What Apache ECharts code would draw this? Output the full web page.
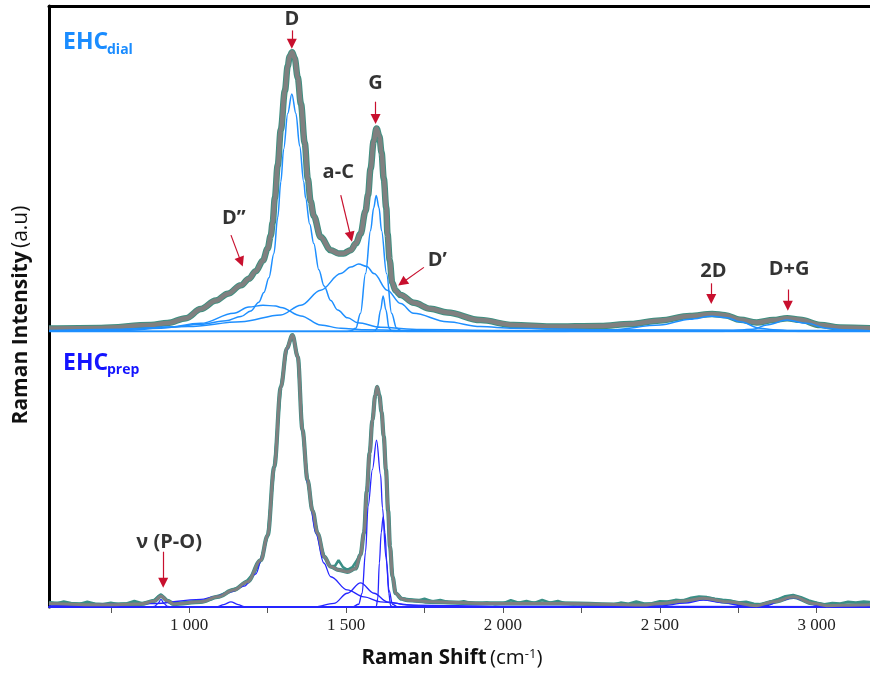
<!DOCTYPE html>
<html><head><meta charset="utf-8">
<script src="https://cdn.jsdelivr.net/npm/echarts@6/dist/echarts.min.js"></script>
<style>html,body{margin:0;padding:0;background:#fff}#c{width:870px;height:677px}</style>
</head><body><div id="c"></div>
<script>
// ---------- DATA (Raman shift cm-1, intensity a.u.) ----------
const xTickValues = [750, 1000, 1250, 1500, 1750, 2000, 2250, 2500, 2750, 3000];
const xLabelValues = [1000, 1500, 2000, 2500, 3000];

// EHC dial : fitted total and components
const dialTotal = [[553,0.9],[719,1.1],[878,2.0],[931,2.6],[990,4.1],[1037,6.9],[1085,9.5],[1123,11.6],[1165,14.2],[1190,16.2],[1212,18.5],[1235,21.8],[1250,25.5],[1260,29.5],[1266,33.5],[1273,41],[1282,51],[1292,62],[1305,74],[1314,81.5],[1320,84.5],[1328,85.8],[1336,84],[1346,78],[1356,70],[1368,58],[1378,47],[1387,40],[1397,35.5],[1419,29],[1451,25],[1476,24],[1492,24],[1515,25],[1531,27],[1546,30],[1562,37],[1570,42],[1578,50],[1588,58.5],[1597,62.4],[1606,60],[1613,55],[1620,47],[1628,38],[1632,30],[1639,22],[1647,15],[1658,12.5],[1674,11.2],[1716,8.8],[1769,7.0],[1823,5.8],[1928,3.5],[2033,2.0],[2151,1.5],[2310,1.7],[2406,2.3],[2501,3.4],[2596,4.8],[2667,5.4],[2708,5.0],[2756,3.6],[2809,2.8],[2862,3.5],[2906,4.1],[2947,3.6],[3011,2.0],[3074,1.2],[3170,1.0]];
const dialD = [[553,0.3],[783,0.7],[942,1.4],[1037,2.2],[1117,3.3],[1165,4.6],[1196,6.3],[1222,9],[1238,12],[1254,16.5],[1270,24],[1282,35],[1292,46],[1301,56],[1314,67],[1327,73],[1340,67],[1352,57],[1365,46],[1371,41],[1384,33],[1397,27],[1413,19],[1430,14],[1451,9.5],[1473,6.6],[1505,4.2],[1537,2.7],[1610,1.3],[1737,0.6],[1992,0.3],[3170,0.1]];
const dialG = [[553,0],[1500,0],[1515,0.2],[1531,1],[1546,5.6],[1562,17.8],[1578,31],[1588,38],[1596,41.8],[1605,38],[1613,31],[1629,17.8],[1645,5.6],[1661,1],[1677,0.2],[1700,0],[3170,0]];
const dialAC = [[553,0.1],[719,0.3],[996,1.5],[1165,3],[1292,5.1],[1356,8.1],[1419,12.7],[1483,17.8],[1515,19.8],[1540,20.7],[1566,20],[1589,17.8],[1631,12.7],[1674,8.6],[1715,5.6],[1822,3.0],[1928,1.5],[2033,1.0],[2310,0.5],[3170,0.2]];
const dialDp = [[553,0],[1585,0],[1591,0.1],[1599,1],[1610,6.6],[1618,10.9],[1627,6.6],[1637,1],[1645,0.1],[1652,0],[3170,0]];
const dialD2 = [[553,0.1],[783,0.3],[910,1],[1037,2.5],[1142,5.6],[1190,7.5],[1235,8.1],[1276,7.8],[1292,7.4],[1356,4.8],[1419,2],[1483,1],[1556,0.5],[1737,0.2],[2000,0],[3170,0]];
const dial2D = [[553,0],[2183,0],[2342,0.5],[2501,2],[2596,3.8],[2666,4.7],[2714,4.2],[2756,3],[2820,1],[2861,0.5],[2950,0],[3170,0]];
const dialDG = [[553,0],[2700,0],[2797,0.7],[2841,2],[2906,3.5],[2968,2.5],[3032,1],[3083,0.5],[3170,0.2]];

// EHC prep : measured (noisy) spectrum, fitted total and components
const prepRaw = [[553,1.8],[575,1.2],[600,2.0],[625,1.4],[650,1.1],[675,1.9],[700,1.2],[725,1.0],[750,1.6],[775,1.0],[800,1.3],[825,2.2],[850,1.4],[870,1.6],[889,2.6],[900,3.8],[910,4.6],[920,3.5],[931,2.0],[951,1.0],[975,1.4],[1000,1.8],[1025,2.1],[1050,2.2],[1075,3.0],[1090,3.9],[1110,4.8],[1125,5.3],[1142,6.5],[1165,7.5],[1186,9.8],[1210,13],[1228,17],[1250,26],[1271,51],[1292,80],[1311,94],[1329,98.9],[1346,91],[1361,64.4],[1377,46.2],[1393,35],[1409,26.8],[1430,18.3],[1451,14.7],[1465,15],[1476,17],[1490,14.5],[1504,13.5],[1520,14.5],[1546,19],[1557,27],[1566,42],[1575,56],[1584,68],[1593,77],[1599,80.1],[1606,77],[1613,71],[1620,62],[1627,50],[1634,35],[1640,22],[1648,11],[1658,5],[1677,3.2],[1700,2.8],[1725,2.2],[1750,3.0],[1775,2.0],[1800,2.6],[1825,1.8],[1850,1.5],[1875,2.1],[1900,1.4],[1925,1.2],[1950,1.6],[1975,1.0],[2000,1.3],[2025,2.5],[2050,1.6],[2075,2.2],[2100,1.5],[2125,2.6],[2150,1.6],[2175,2.2],[2200,1.3],[2225,1.0],[2250,1.4],[2275,1.0],[2300,0.8],[2325,1.0],[2350,0.9],[2375,1.6],[2400,1.2],[2425,2.0],[2450,1.3],[2475,1.4],[2500,2.1],[2525,2.0],[2550,2.6],[2575,2.4],[2600,3.4],[2625,3.8],[2650,3.6],[2675,3.0],[2700,2.6],[2725,2.4],[2750,1.6],[2775,1.9],[2800,1.2],[2825,1.0],[2850,1.8],[2875,2.8],[2900,3.9],[2925,4.4],[2950,3.6],[2975,2.4],[3000,1.6],[3025,1.0],[3050,1.5],[3075,1.3],[3100,1.9],[3125,1.6],[3150,2.0],[3170,1.8]];
const prepTotal = [[553,1.3],[719,0.8],[846,1.1],[889,2.2],[910,4.0],[931,2.2],[951,1.1],[1037,1.9],[1090,3.7],[1142,6.2],[1186,9.2],[1228,17],[1250,26],[1271,51],[1292,80],[1311,94],[1329,98.9],[1346,91],[1361,64.4],[1377,46.2],[1393,35],[1409,26.8],[1430,18.3],[1451,14.7],[1476,13.5],[1504,12.8],[1530,14],[1546,19],[1557,27],[1566,42],[1575,56],[1584,68],[1593,77],[1599,80.1],[1606,77],[1613,71],[1620,62],[1627,50],[1634,35],[1640,22],[1648,11],[1658,5],[1677,3],[1695,2.5],[1769,1.9],[1928,1.3],[2183,1.3],[2447,0.7],[2501,1.3],[2580,2.2],[2639,3.2],[2714,1.9],[2809,0.5],[2862,1.9],[2926,3.7],[2989,1.3],[3032,0.5],[3138,0.7],[3170,0.8]];
const prepD = [[553,0.4],[878,1.2],[1037,2.8],[1080,3.7],[1133,5.5],[1175,7.6],[1212,12],[1235,19],[1250,26],[1271,51],[1292,79.5],[1311,93.5],[1329,98.5],[1346,90.5],[1361,63.5],[1377,45],[1403,27],[1429,16],[1451,11],[1504,6.2],[1557,3.7],[1610,1.9],[1716,0.7],[1992,0.2],[3170,0.1]];
const prepG = [[553,0],[1520,0],[1540,1],[1551,5],[1562,20],[1570,36.5],[1584,50],[1597,60.7],[1610,48],[1616,36],[1627,18],[1637,6],[1648,1],[1665,0],[3170,0]];
const prepDp = [[553,0],[1590,0],[1596,0.2],[1601,3],[1606,16],[1612,27],[1618,32.8],[1624,27],[1630,16],[1636,5],[1642,0.5],[1650,0],[3170,0]];
const prepAC = [[553,0],[1400,0],[1461,1.3],[1504,5],[1546,8.8],[1589,5],[1631,1.9],[1695,0.7],[1800,0.2],[1900,0],[3170,0]];
const prepPO = [[553,0],[880,0],[889,0.2],[900,1.2],[910,2.8],[920,1.2],[931,0.2],[942,0],[3170,0]];
const prepB = [[553,0],[1085,0],[1090,0.1],[1110,0.9],[1133,1.9],[1156,0.9],[1175,0.1],[1180,0],[3170,0]];
const prep2D = [[553,0],[2380,0],[2500,0.4],[2580,1.4],[2639,2.5],[2700,1.6],[2760,0.5],[2820,0],[3170,0]];
const prepDG = [[553,0],[2800,0],[2840,0.5],[2890,2.5],[2926,3.4],[2960,2.4],[3000,0.6],[3040,0],[3170,0]];

// annotations: label text, label position, arrow start, arrow end
const dialNotes = [
  {t:'D',   at:[1327,95.9], from:[1327,92.5], to:[1327,88.4]},
  {t:'G',   at:[1594,76.1], from:[1594,70.6], to:[1594,65.3]},
  {t:'a-C', at:[1475,48.8], from:[1483,41.9], to:[1515,29.1]},
  {t:'D\u2019\u2019', at:[1142,34.9], from:[1133,29.6], to:[1165,21.4]},
  {t:'D\u2019', at:[1791,22.0], from:[1748,19.7], to:[1679,15.0]},
  {t:'2D',  at:[2671,18.6], from:[2664,14.8], to:[2664,10.0]},
  {t:'D+G', at:[2912,19.2], from:[2908,12.9], to:[2908,7.9]}
];
const prepNotes = [
  {t:'\u03bd (P-O)', at:[936,23.7], from:[917,20.1], to:[917,8.8]}
];

// ---------- CHART ----------
const SANS = '"Open Sans", "Noto Sans", sans-serif';
const dialBlue = '#1e8fff', prepBlue = '#2626ff';
const chart = echarts.init(document.getElementById('c'), null, {renderer:'canvas'});

function line(data, idx, color, width, z, smooth) {
  return {type:'line', xAxisIndex:idx, yAxisIndex:idx, data:data, showSymbol:false, symbol:'none',
    smooth:smooth === undefined ? 0.35 : smooth, smoothMonotone:'x', lineStyle:{color:color, width:width}, z:z, silent:true, animation:false};
}
function notes(list, idx) {
  return {type:'scatter', xAxisIndex:idx, yAxisIndex:idx, symbolSize:1, itemStyle:{color:'rgba(0,0,0,0)'},
    silent:true, animation:false, z:10,
    data:list.map(n => ({name:n.t, value:n.at})),
    label:{show:true, position:'inside', formatter:'{b}', fontFamily:SANS, fontWeight:'bold', fontSize:20, color:'#000', textBorderWidth:0},
    markLine:{silent:true, animation:false, symbol:['none','triangle'], symbolSize:10,
      lineStyle:{color:'#c8102e', width:1.2, type:'solid'}, label:{show:false}, emphasis:{disabled:true},
      data:list.map(n => [{coord:n.from},{coord:n.to}])}
  };
}
const fmt = v => String(v).replace(/\B(?=(\d{3})+(?!\d))/g, ' ');
const frame = {show:true, lineStyle:{color:'#000', width:3}};

const series = [
  line(dialTotal, 0, '#3f8f80', 6.5, 2),
  line(dialTotal, 0, '#808080', 4.5, 3),
  line(dialD2, 0, dialBlue, 1.5, 4),
  line(dialAC, 0, dialBlue, 1.5, 4),
  line(dialD, 0, dialBlue, 1.5, 4),
  line(dialG, 0, dialBlue, 1.5, 4),
  line(dialDp, 0, dialBlue, 1.5, 4),
  line(dial2D, 0, dialBlue, 1.5, 4),
  line(dialDG, 0, dialBlue, 1.5, 4),
  line(prepRaw, 1, '#3a8f86', 2.5, 1, false),
  line(prepTotal, 1, '#3a8f86', 4.2, 1),
  line(prepD, 1, prepBlue, 1.3, 2),
  line(prepAC, 1, prepBlue, 1.3, 2),
  line(prepG, 1, prepBlue, 1.3, 2),
  line(prepDp, 1, prepBlue, 1.3, 2),
  line(prepPO, 1, prepBlue, 1.3, 2),
  line(prepB, 1, prepBlue, 1.3, 2),
  line(prep2D, 1, prepBlue, 1.3, 2),
  line(prepDG, 1, prepBlue, 1.3, 2),
  line(prepTotal, 1, '#808080', 3, 3),
  notes(dialNotes, 0),
  notes(prepNotes, 1)
];

chart.setOption({
  animation:false,
  backgroundColor:'#fff',
  grid:[
    {left:49, right:0, top:6, height:325.5},
    {left:49, right:0, top:332, height:275}
  ],
  xAxis:[
    {type:'value', gridIndex:0, min:553, max:3170, axisLine:{show:false}, axisTick:{show:false}, axisLabel:{show:false}, splitLine:{show:false}},
    {type:'value', gridIndex:1, min:553, max:3170,
      axisLine:{show:true, lineStyle:{color:prepBlue, width:2}},
      axisTick:{show:true, customValues:xTickValues, length:6, lineStyle:{color:'#555', width:1}},
      axisLabel:{show:true, customValues:xLabelValues, formatter:fmt, fontFamily:'"Liberation Serif", serif', fontSize:17, color:'#222', margin:10},
      splitLine:{show:false}},
    {type:'value', gridIndex:0, position:'top', min:553, max:3170, axisLine:frame, axisTick:{show:false}, axisLabel:{show:false}, splitLine:{show:false}}
  ],
  yAxis:[
    {type:'value', gridIndex:0, min:0, max:100, axisLine:frame, axisTick:{show:false}, axisLabel:{show:false}, splitLine:{show:false}},
    {type:'value', gridIndex:1, min:0, max:100, axisLine:frame, axisTick:{show:false}, axisLabel:{show:false}, splitLine:{show:false}}
  ],
  graphic:[
    {type:'text', x:63, y:42, style:{text:'EHC', fill:'#1a8cff', font:'bold 23px ' + SANS, verticalAlign:'middle'}},
    {type:'text', x:107, y:50, style:{text:'dial', fill:'#1a8cff', font:'bold 14px ' + SANS, verticalAlign:'middle'}},
    {type:'text', x:63, y:363, style:{text:'EHC', fill:'#1414ff', font:'bold 23px ' + SANS, verticalAlign:'middle'}},
    {type:'text', x:107, y:370, style:{text:'prep', fill:'#1414ff', font:'bold 14px ' + SANS, verticalAlign:'middle'}},
    {type:'text', x:21, y:315, rotation:Math.PI/2,
      style:{text:'{b|Raman Intensity} {n|(a.u)}', align:'center', verticalAlign:'middle',
        rich:{b:{fontFamily:SANS, fontWeight:'bold', fontSize:21, fill:'#111'}, n:{fontFamily:SANS, fontSize:21, fill:'#111'}}}},
    {type:'text', x:452, y:658,
      style:{text:'{b|Raman Shift} {n|(cm}{s|-1}{n|)}', align:'center', verticalAlign:'middle',
        rich:{b:{fontFamily:SANS, fontWeight:'bold', fontSize:20.5, fill:'#111'}, n:{fontFamily:SANS, fontSize:20.5, fill:'#111'},
              s:{fontFamily:SANS, fontSize:13, fill:'#111', verticalAlign:'top'}}}}
  ],
  series:series
});
</script>
</body></html>
